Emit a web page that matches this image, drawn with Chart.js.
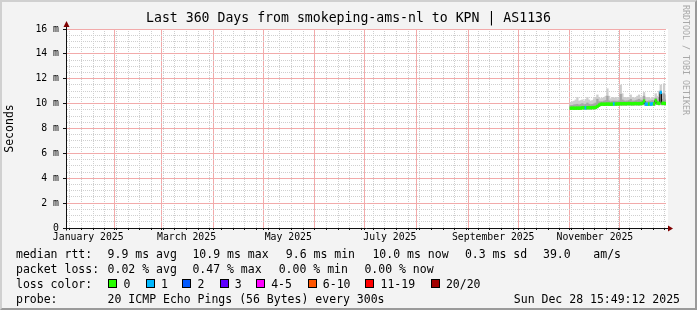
<!DOCTYPE html>
<html>
<head>
<meta charset="utf-8">
<script src="https://cdn.jsdelivr.net/npm/chart.js@4.4.1/dist/chart.umd.min.js"></script>
<style>
  html, body { margin: 0; padding: 0; }
  body { width: 697px; height: 310px; overflow: hidden; position: relative; }
  #frame {
    position: absolute; left: 0; top: 0; width: 697px; height: 310px; box-sizing: border-box;
    background: #f3f3f3;
    border-top: 2px solid #d0d0d0; border-left: 2px solid #d0d0d0;
    border-right: 2px solid #9a9a9a; border-bottom: 2px solid #9a9a9a;
  }
  #chart { position: absolute; left: 0; top: 0; }
  #title {
    position: absolute; left: 0; top: 10px; width: 697px; text-align: center;
    font: 13.2px 'DejaVu Sans Mono', monospace; line-height: 16px; color: #000;
  }
  #credit {
    position: absolute; left: 681px; top: 5px; writing-mode: vertical-rl;
    font: 8.3px 'DejaVu Sans Mono', monospace; line-height: 10px; color: #a8a8a8;
  }
  .row { position: absolute; left: 0; width: 697px; height: 14px; font: 11.5px 'DejaVu Sans Mono', monospace; line-height: 14px; color: #000; }
  .row span { position: absolute; top: 0; white-space: pre; }
  .row .box { width: 7px; height: 7px; border: 1px solid #000; top: 2px; }
</style>
</head>
<body>
<div id="frame"></div>
<canvas id="chart" width="697" height="310"></canvas>
<div id="title">Last 360 Days from smokeping-ams-nl to KPN | AS1136</div>
<div id="credit">RRDTOOL / TOBI OETIKER</div>
<div id="legend"></div>
<script>
// graph window: 360 days ending Sun Dec 28 15:49:12 2025
const DAY = 86400000;
const graphStart = Date.UTC(2025, 0, 2, 15, 49, 12);
const graphEnd = Date.UTC(2025, 11, 28, 15, 49, 12);

const monthNames = ['January', 'February', 'March', 'April', 'May', 'June', 'July',
    'August', 'September', 'October', 'November', 'December'];

// daily samples (only the last ~2 months have data)
const dates = [
    '2025-11-01', '2025-11-02', '2025-11-03', '2025-11-04', '2025-11-05', '2025-11-06', '2025-11-07',
    '2025-11-08', '2025-11-09', '2025-11-10', '2025-11-11', '2025-11-12', '2025-11-13', '2025-11-14',
    '2025-11-15', '2025-11-16', '2025-11-17', '2025-11-18', '2025-11-19', '2025-11-20', '2025-11-21',
    '2025-11-22', '2025-11-23', '2025-11-24', '2025-11-25', '2025-11-26', '2025-11-27', '2025-11-28',
    '2025-11-29', '2025-11-30', '2025-12-01', '2025-12-02', '2025-12-03', '2025-12-04', '2025-12-05',
    '2025-12-06', '2025-12-07', '2025-12-08', '2025-12-09', '2025-12-10', '2025-12-11', '2025-12-12',
    '2025-12-13', '2025-12-14', '2025-12-15', '2025-12-16', '2025-12-17', '2025-12-18', '2025-12-19',
    '2025-12-20', '2025-12-21', '2025-12-22', '2025-12-23', '2025-12-24', '2025-12-25', '2025-12-26',
    '2025-12-27', '2025-12-28'
];

// median rtt in ms
const median = [
    9.63, 9.64, 9.63, 9.63, 9.64, 9.63, 9.64,
    9.67, 9.67, 9.66, 9.67, 9.68, 9.67, 9.68, 9.68,
    9.70, 9.78, 9.88,
    9.95, 9.96, 9.95, 9.96, 9.97, 9.96, 9.95, 9.96,
    9.98, 9.97, 9.98, 9.98,
    10.00, 9.99, 10.00, 9.99, 10.00, 10.01, 10.00, 9.99, 10.00, 10.01, 10.00, 10.00, 10.01, 10.02,
    10.20,
    9.96, 9.95, 9.97, 9.96, 9.99, 9.98,
    10.25,
    10.05, 10.02,
    10.90,
    10.02, 10.03, 10.00
];

// smoke: lowest ping, inner (dense) upper edge, highest ping, in ms
const smokeLow = [
    9.52, 9.53, 9.52, 9.52, 9.53, 9.52, 9.53,
    9.56, 9.56, 9.55, 9.56, 9.57, 9.56, 9.57, 9.57,
    9.59, 9.66, 9.76,
    9.84, 9.85, 9.84, 9.85, 9.85, 9.85, 9.84, 9.85,
    9.86, 9.86, 9.87, 9.87,
    9.88, 9.88, 9.89, 9.88, 9.89, 9.89, 9.89, 9.88, 9.89, 9.89, 9.89, 9.88, 9.89, 9.90,
    9.95,
    9.84, 9.84, 9.85, 9.85, 9.87, 9.86,
    9.95,
    9.92, 9.90,
    9.92,
    9.90, 9.91, 9.89
];
const smokeMid = [
    9.85, 9.86, 9.90, 9.92, 9.95, 9.88, 9.95,
    10.00, 9.92, 9.95, 10.05, 9.96, 9.92, 9.94, 9.98,
    10.05, 10.35, 10.15,
    10.15, 10.15, 10.20, 10.25, 10.60, 10.22, 10.15, 10.20,
    10.20, 10.20, 10.18, 10.22,
    10.75, 10.30, 10.22, 10.20, 10.22, 10.25, 10.35, 10.22, 10.20, 10.25, 10.30, 10.35, 10.25, 10.28,
    10.60,
    10.20, 10.18, 10.22, 10.20, 10.25, 10.22,
    10.45,
    10.30, 10.50,
    11.00,
    10.35, 10.80, 10.30
];
const smokeHigh = [
    10.10, 10.15, 10.20, 10.30, 10.50, 10.20, 10.25,
    10.30, 10.20, 10.35, 10.50, 10.30, 10.20, 10.25, 10.40,
    10.50, 10.70, 10.50,
    10.40, 10.45, 10.50, 10.60, 11.20, 10.60, 10.40, 10.50,
    10.45, 10.50, 10.40, 10.50,
    11.50, 10.80, 10.50, 10.45, 10.50, 10.50, 10.70, 10.50, 10.45, 10.50, 10.60, 10.70, 10.50, 10.55,
    10.90,
    10.50, 10.45, 10.50, 10.40, 10.50, 10.45,
    10.80,
    10.60, 11.00,
    11.50,
    10.80, 11.60, 10.70
];

// lost pings (of 20) per sample
const lossPings = [
    0, 0, 0, 0, 0, 0, 0,
    0, 0, 1, 0, 0, 0, 0, 0,
    0, 0, 0,
    0, 0, 0, 0, 0, 0, 0, 0,
    1, 0, 0, 0,
    0, 0, 0, 0, 0, 0, 0, 0, 0, 0, 0, 0, 0, 0,
    0,
    1, 1, 0, 1, 1, 0,
    0,
    0, 0,
    1,
    0, 0, 0
];

const lossLabels = ['0', '1', '2', '3', '4-5', '6-10', '11-19', '20/20'];
const lossColors = ['#26ff00', '#00b8ff', '#0059ff', '#5e00ff', '#ff00ff', '#ff5500', '#ff0000', '#a10000'];

const MINOR_GRID = '#cfcfcf';
const MAJOR_GRID = '#f2aaaa';
const AXIS = '#101010';
const ARROW = '#7f0000';
const BAND = 0.11;   // half thickness of the median band, ms

function lossBucket(n) {
    if (n <= 3) return n;
    if (n <= 5) return 4;
    if (n <= 10) return 5;
    if (n <= 19) return 6;
    return 7;
}

function toTime(d) {
    const p = d.split('-').map(Number);
    return Date.UTC(p[0], p[1] - 1, p[2], 12);
}

const times = dates.map(toTime);

// weekly minor grid, monthly major grid, labels every 2nd month (mid month)
function buildTimeTicks() {
    const out = [];
    const monthStarts = [];
    for (let m = 1; m < 12; m++) monthStarts.push(Date.UTC(2025, m, 1));
    for (let t = Date.UTC(2025, 0, 5); t <= graphEnd; t += 7 * DAY) {
        if (!monthStarts.includes(t)) out.push({ value: t, kind: 'week' });
    }
    monthStarts.forEach(t => out.push({ value: t, kind: 'month' }));
    for (let m = 0; m < 12; m += 2) {
        out.push({ value: Date.UTC(2025, m, 16), kind: 'label', caption: monthNames[m] + ' 2025' });
    }
    return out.sort((a, b) => a.value - b.value);
}

function buildValueTicks() {
    const out = [];
    for (let v = 0; v <= 16; v += 0.5) out.push({ value: v });
    return out;
}

function xMajor(ctx) { return !!(ctx.tick && ctx.tick.kind === 'month'); }
function yMajor(ctx) { return !!(ctx.tick && ctx.tick.value > 0 && ctx.tick.value % 2 === 0); }

function xGridColor(ctx) {
    const kind = ctx.tick && ctx.tick.kind;
    if (kind === 'month') return MAJOR_GRID;
    if (kind === 'week') return MINOR_GRID;
    return 'rgba(0,0,0,0)';
}

function yGridColor(ctx) {
    const v = ctx.tick ? ctx.tick.value : -1;
    if (v <= 0) return 'rgba(0,0,0,0)';
    return v % 2 === 0 ? MAJOR_GRID : MINOR_GRID;
}

// white plot area + axis arrows like rrdtool
const rrdFrame = {
    id: 'rrdFrame',
    beforeDraw(chart) {
        const { ctx, chartArea: a } = chart;
        ctx.save();
        ctx.fillStyle = '#ffffff';
        ctx.fillRect(a.left, a.top, a.right - a.left + 2, a.bottom - a.top);
        ctx.restore();
    },
    afterDraw(chart) {
        const { ctx, chartArea: a } = chart;
        const x0 = Math.round(a.left) + 0.5;
        const y0 = Math.round(a.bottom) + 0.5;
        ctx.save();
        ctx.strokeStyle = AXIS;
        ctx.lineWidth = 1;
        ctx.beginPath();
        ctx.moveTo(x0, a.top);
        ctx.lineTo(x0, a.top - 3);
        ctx.moveTo(a.right, y0);
        ctx.lineTo(a.right + 3, y0);
        ctx.moveTo(x0, y0);
        ctx.lineTo(x0, y0 + 2);
        ctx.stroke();
        ctx.fillStyle = ARROW;
        ctx.beginPath();
        ctx.moveTo(x0, a.top - 8);
        ctx.lineTo(x0 - 3, a.top - 2);
        ctx.lineTo(x0 + 3, a.top - 2);
        ctx.closePath();
        ctx.fill();
        ctx.beginPath();
        ctx.moveTo(a.right + 7, y0);
        ctx.lineTo(a.right + 2, y0 - 3);
        ctx.lineTo(a.right + 2, y0 + 3);
        ctx.closePath();
        ctx.fill();
        ctx.restore();
    }
};

const tickFont = { family: "'DejaVu Sans Mono', monospace", size: 9.8 };
const barCommon = { grouped: false, barPercentage: 1, categoryPercentage: 1, borderWidth: 0 };

new Chart(document.getElementById('chart'), {
    type: 'bar',
    data: {
        datasets: [
            Object.assign({
                label: 'smoke',
                data: times.map((t, i) => ({ x: t, y: [smokeLow[i], smokeHigh[i]] })),
                backgroundColor: '#cdcdcd',
                order: 5
            }, barCommon),
            Object.assign({
                label: 'smoke dense',
                data: times.map((t, i) => ({ x: t, y: [smokeLow[i], smokeMid[i]] })),
                backgroundColor: '#a6a6a6',
                order: 4
            }, barCommon),
            {
                type: 'line',
                label: 'median',
                data: times.map((t, i) => ({ x: t, y: median[i] })),
                borderColor: '#000000',
                borderWidth: 1,
                stepped: 'middle',
                pointRadius: 0,
                fill: false,
                order: 3
            },
            Object.assign({
                label: 'median rtt',
                data: times.map((t, i) => ({ x: t, y: [median[i] - BAND, median[i] + BAND] })),
                backgroundColor: lossPings.map(n => lossColors[lossBucket(n)]),
                order: 2
            }, barCommon)
        ]
    },
    options: {
        responsive: false,
        animation: false,
        events: [],
        layout: { padding: { top: 29, right: 31, left: 0, bottom: 0 } },
        plugins: {
            legend: { display: false },
            tooltip: { enabled: false },
            title: { display: false }
        },
        scales: {
            x: {
                type: 'linear',
                min: graphStart,
                max: graphEnd,
                offset: false,
                afterBuildTicks: scale => { scale.ticks = buildTimeTicks(); },
                afterFit: scale => { scale.height = 82; },
                grid: {
                    offset: false,
                    lineWidth: 1,
                    tickLength: 2,
                    color: xGridColor,
                    tickColor: ctx => (ctx.tick && ctx.tick.kind === 'label') ? 'rgba(0,0,0,0)' : AXIS
                },
                border: { color: AXIS, width: 1, dash: ctx => xMajor(ctx) ? [] : [1, 1] },
                ticks: {
                    autoSkip: false,
                    maxRotation: 0,
                    minRotation: 0,
                    padding: 2,
                    color: '#000',
                    font: tickFont,
                    callback: (v, i, ticks) => ticks[i].caption || ''
                }
            },
            y: {
                min: 0,
                max: 16,
                afterBuildTicks: scale => { scale.ticks = buildValueTicks(); },
                afterFit: scale => { scale.width = 66; },
                grid: {
                    lineWidth: 1,
                    tickLength: 3,
                    color: yGridColor,
                    tickColor: ctx => (ctx.tick && ctx.tick.value % 2 === 0) ? AXIS : 'rgba(0,0,0,0)'
                },
                border: { color: AXIS, width: 1, dash: ctx => yMajor(ctx) ? [] : [1, 1] },
                ticks: {
                    autoSkip: false,
                    padding: 4,
                    color: '#000',
                    font: tickFont,
                    callback: v => v % 2 === 0 ? (v === 0 ? '0' : v + ' m') : ''
                },
                title: {
                    display: true,
                    text: 'Seconds',
                    color: '#000',
                    font: { family: "'DejaVu Sans Mono', monospace", size: 11.5 },
                    padding: { top: 3, bottom: 0 }
                }
            }
        }
    },
    plugins: [rrdFrame]
});

// rrdtool style legend below the graph
const swatchX = [108.4, 145.8, 182.2, 219.6, 256, 307.6, 365.3, 430.7];
const legendRows = [
    { y: 254, items: [[16, 'median rtt:'], [107.6, '9.9 ms avg'], [192.4, '10.9 ms max'], [285.8, '9.6 ms min'],
        [372.4, '10.0 ms now'], [464.9, '0.3 ms sd'], [543, '39.0'], [593.3, 'am/s']] },
    { y: 269, items: [[16, 'packet loss:'], [107.6, '0.02 % avg'], [192.4, '0.47 % max'], [278.7, '0.00 % min'],
        [364.4, '0.00 % now']] },
    { y: 284, items: [[16, 'loss color:']], swatches: true },
    { y: 299, items: [[16, 'probe:'], [107.6, '20 ICMP Echo Pings (56 Bytes) every 300s']],
        right: 'Sun Dec 28 15:49:12 2025' }
];

const legend = document.getElementById('legend');
legendRows.forEach(row => {
    const div = document.createElement('div');
    div.className = 'row';
    div.style.top = (row.y - 7) + 'px';
    row.items.forEach(([x, text]) => {
        const s = document.createElement('span');
        s.style.left = x + 'px';
        s.textContent = text;
        div.appendChild(s);
    });
    if (row.swatches) {
        lossLabels.forEach((lbl, i) => {
            const box = document.createElement('span');
            box.className = 'box';
            box.style.left = swatchX[i] + 'px';
            box.style.background = lossColors[i];
            div.appendChild(box);
            const s = document.createElement('span');
            s.style.left = (swatchX[i] + 15.2) + 'px';
            s.textContent = lbl;
            div.appendChild(s);
        });
    }
    if (row.right) {
        const s = document.createElement('span');
        s.style.right = (697 - 680) + 'px';
        s.textContent = row.right;
        div.appendChild(s);
    }
    legend.appendChild(div);
});
</script>
</body>
</html>
